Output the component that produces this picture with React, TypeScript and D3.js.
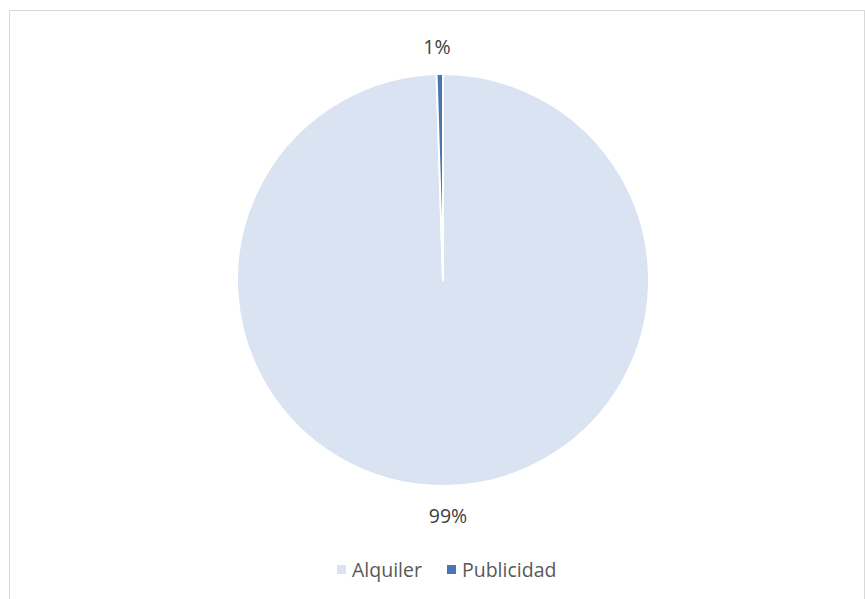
import React from "react";
import * as d3 from "d3";

const categories = ["Alquiler", "Publicidad"];
const values = [99.5, 0.5];
const labels = ["99%", "1%"];
const colors = ["#DAE3F1", "#4A76B1"];

export default function App() {
  const W = 865, H = 599;
  const cx = 443, cy = 280, r = 206;
  const pie = d3.pie<number>().sort(null).startAngle(0).endAngle(2 * Math.PI);
  const arcs = pie(values);
  const arc = d3.arc<d3.PieArcDatum<number>>().innerRadius(0).outerRadius(r);
  const font = "'Open Sans', sans-serif";
  const labelPos = [
    { x: 448, y: 523 },
    { x: 437, y: 54 },
  ];
  return (
    <svg width={W} height={H} style={{ position: "absolute", left: 0, top: 0 }}>
      <rect x={9.5} y={10.5} width={855} height={600} fill="#fff" stroke="#D9D9D9" strokeWidth={1} />
      <g transform={`translate(${cx},${cy})`}>
        {arcs.map((a, i) => (
          <path key={categories[i]} d={arc(a) || ""} fill={colors[i]} stroke="#fff" strokeWidth={2} strokeLinejoin="round" />
        ))}
      </g>
      {arcs.map((a, i) => (
        <text key={"l" + i} x={labelPos[i].x} y={labelPos[i].y} textAnchor="middle" fontFamily={font} fontSize={19.5} fill="#404040">
          {labels[i]}
        </text>
      ))}
      <g fontFamily={font} fontSize={19.5} fill="#595959">
        <rect x={337} y={565} width={9} height={9} fill={colors[0]} />
        <text x={352} y={577}>{categories[0]}</text>
        <rect x={447} y={565} width={9} height={9} fill={colors[1]} />
        <text x={462} y={577}>{categories[1]}</text>
      </g>
    </svg>
  );
}
